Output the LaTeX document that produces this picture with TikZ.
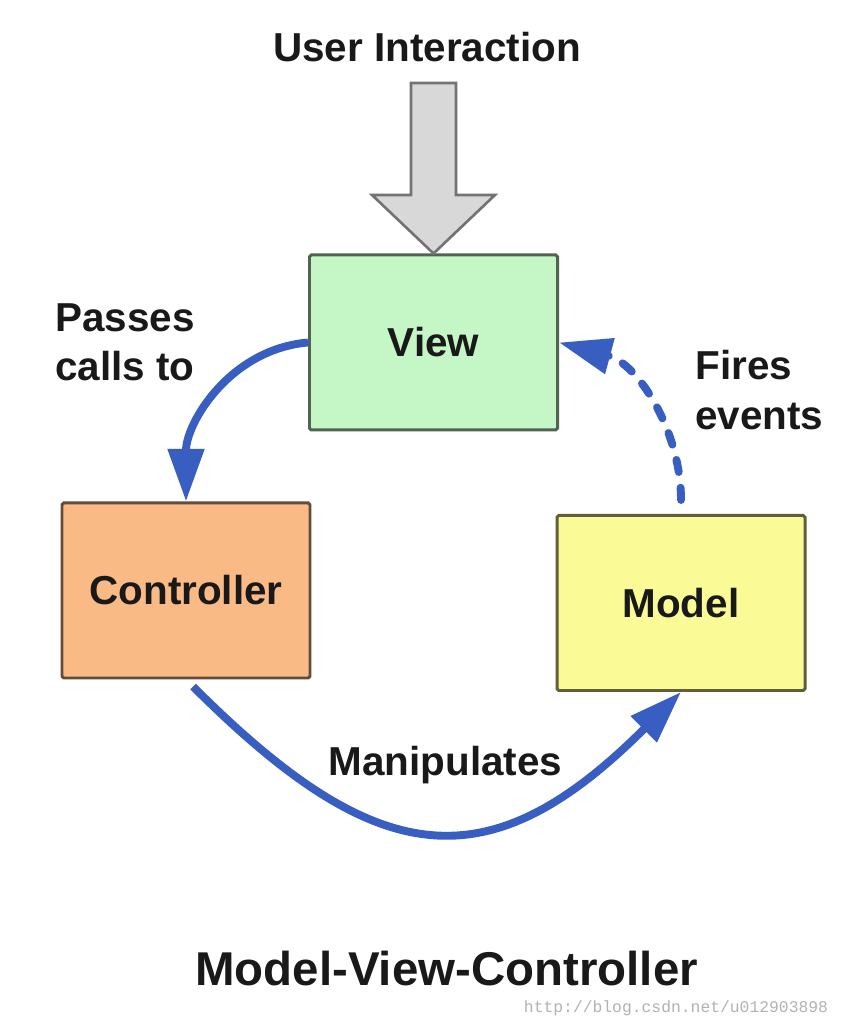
\documentclass[tikz,border=0pt]{standalone}
\usepackage{fontspec}
\setmainfont{Liberation Sans}
\setmonofont{Liberation Mono}
\usetikzlibrary{arrows.meta}
\definecolor{viewgreen}{RGB}{196,246,198}
\definecolor{viewedge}{RGB}{80,100,80}
\definecolor{ctrlorange}{RGB}{250,186,134}
\definecolor{ctrledge}{RGB}{100,76,60}
\definecolor{modelyellow}{RGB}{250,250,150}
\definecolor{modeledge}{RGB}{95,95,58}
\definecolor{mvcblue}{RGB}{55,94,192}
\definecolor{uigray}{RGB}{216,216,216}
\begin{document}
\begin{tikzpicture}[
  box/.style={draw, line width=1.7pt, rounded corners=1pt, minimum width=4.96cm, minimum height=3.5cm,
    font=\fontsize{23}{28}\selectfont\bfseries, text=black!90},
  lbl/.style={inner sep=0pt, align=left, font=\fontsize{23}{28}\selectfont\bfseries, text=black!90},
  flow/.style={draw=mvcblue, line width=4.5pt, -{Triangle[length=30pt,width=20pt]}}
]
\useasboundingbox[fill=white] (0,0) rectangle (16.88,20.56);
\node[box, fill=viewgreen, draw=viewedge] (view) at (8.67,13.71) {View};
\node[box, fill=ctrlorange, draw=ctrledge] (ctrl) at (3.72,8.75) {Controller};
\node[box, fill=modelyellow, draw=modeledge] (model) at (13.62,8.5) {Model};
\node[lbl] (user) at (8.54,19.62) {User Interaction};
\node[lbl, anchor=west] (passes) at (1.1,13.72) {Passes\\calls to};
\node[lbl, anchor=west] (fires) at (13.9,12.76) {Fires\\events};
\node[lbl] (manip) at (8.91,5.26) {Manipulates};
\node[lbl, font=\fontsize{27}{32}\selectfont\bfseries] (title) at (8.93,1.18) {Model-View-Controller};
\node[inner sep=0pt, font=\ttfamily\fontsize{9.3}{11}\selectfont, text=black!30] (mark) at (13.52,0.4) {http://blog.csdn.net/u012903898};
\draw[fill=uigray, draw=black!55, line width=1.5pt]
  (8.22,18.9) -- (9.12,18.9) -- (9.12,16.66) -- (9.9,16.66)
  -- (view.north) -- (7.44,16.66) -- (8.22,16.66) -- cycle;
\draw[flow] (view.west) to[out=185,in=90] (ctrl.north);
\draw[flow, line cap=round, dash pattern=on 7pt off 9pt, shorten <=0.28cm] (model.north) to[out=90,in=-15] (view.east);
\draw[flow, shorten <=0.2cm] (ctrl.south) to[out=-45,in=-135,looseness=1.4] (model.south);
\end{tikzpicture}
\end{document}
